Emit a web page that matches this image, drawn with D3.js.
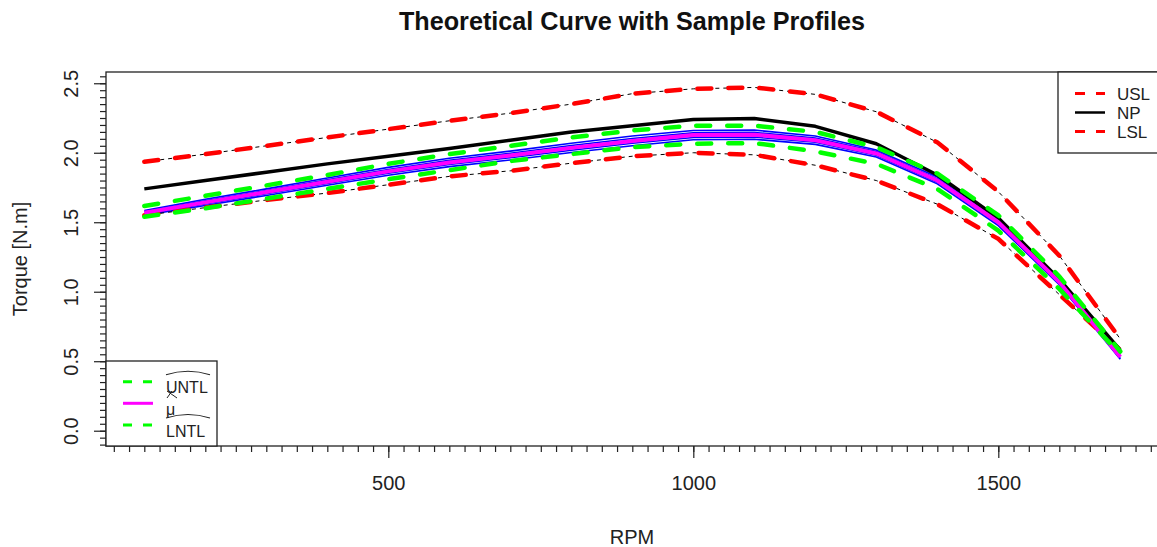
<!DOCTYPE html>
<html><head><meta charset="utf-8">
<script src="https://cdn.jsdelivr.net/npm/d3@7"></script>
<style>body{margin:0;background:#fff;} svg{display:block;font-family:"Liberation Sans",Arial,sans-serif;}</style>
</head><body>
<svg id="c" width="1157" height="547"></svg>
<script>
const rpm = [100,200,300,400,500,600,700,800,900,1000,1100,1200,1300,1400,1500,1600,1700];
const usl  = [1.935,1.99,2.05,2.11,2.17,2.23,2.285,2.35,2.425,2.46,2.47,2.42,2.295,2.075,1.72,1.26,0.66];
const lsl  = [1.55,1.605,1.66,1.71,1.77,1.83,1.87,1.925,1.975,2.0,1.985,1.91,1.80,1.63,1.38,0.98,0.58];
const np   = [1.74,1.80,1.86,1.92,1.975,2.03,2.09,2.15,2.195,2.24,2.247,2.19,2.065,1.84,1.53,1.09,0.58];
const mu   = [1.568,1.643,1.717,1.792,1.866,1.93,1.98,2.035,2.085,2.127,2.13,2.09,1.995,1.80,1.50,1.07,0.53];
const untl = [1.617,1.69,1.765,1.84,1.92,1.99,2.05,2.11,2.16,2.195,2.195,2.15,2.04,1.85,1.55,1.11,0.57];
const lntl = [1.54,1.60,1.67,1.74,1.81,1.875,1.94,1.99,2.04,2.065,2.07,2.01,1.92,1.74,1.44,1.02,0.55];
const sample1 = [1.585,1.665,1.74,1.818,1.895,1.96,2.012,2.068,2.12,2.16,2.163,2.12,2.02,1.825,1.525,1.09,0.55];
const sample2 = [1.577,1.654,1.728,1.805,1.88,1.945,1.996,2.052,2.102,2.143,2.146,2.105,2.008,1.812,1.512,1.08,0.54];
const sample3 = [1.56,1.632,1.705,1.779,1.852,1.915,1.964,2.018,2.068,2.11,2.113,2.075,1.982,1.788,1.488,1.06,0.52];
const sample4 = [1.551,1.621,1.693,1.766,1.838,1.90,1.948,2.002,2.05,2.094,2.097,2.06,1.97,1.776,1.476,1.05,0.515];
const xMajor = [500,1000,1500];
const yMajor = [0.0,0.5,1.0,1.5,2.0,2.5];
const title = "Theoretical Curve with Sample Profiles";

const svg = d3.select("#c");
const L=106, R=1158, T=72, B=446;
const x = d3.scaleLinear().domain([37.2,1761.8]).range([L,R]);
const y = d3.scaleLinear().domain([-0.11,2.581]).range([B,T]);

// axes
const xMinor = d3.range(50,1751,25);
const yMinor = d3.range(-0.1,2.56,0.05).map(v=>Math.round(v*100)/100);
const gx = svg.append("g").attr("transform",`translate(0,${B})`);
gx.call(d3.axisBottom(x).tickValues(xMinor).tickSize(6).tickFormat(""));
gx.select(".domain").remove();
const gx2 = svg.append("g").attr("transform",`translate(0,${B})`);
gx2.call(d3.axisBottom(x).tickValues(xMajor).tickSize(12).tickPadding(18).tickFormat(d3.format("d")));
gx2.select(".domain").remove();
gx2.selectAll("text").attr("font-size",20).attr("fill","#222").attr("font-family","Liberation Sans, Arial");

const gy = svg.append("g").attr("transform",`translate(${L},0)`);
gy.call(d3.axisLeft(y).tickValues(yMinor).tickSize(6).tickFormat(""));
gy.select(".domain").remove();
const gy2 = svg.append("g").attr("transform",`translate(${L},0)`);
gy2.call(d3.axisLeft(y).tickValues(yMajor).tickSize(12).tickFormat(d3.format(".1f")));
gy2.select(".domain").remove();
gy2.selectAll("text").attr("font-size",20).attr("fill","#222").attr("font-family","Liberation Sans, Arial")
  .attr("transform","rotate(-90)").attr("x",0).attr("y",-28).attr("dy",0)
  .attr("text-anchor","middle");
svg.selectAll(".tick line").attr("stroke","#222").attr("stroke-width",1.2);

// clip
svg.append("clipPath").attr("id","clip").append("rect").attr("x",L).attr("y",T).attr("width",R-L).attr("height",B-T);
const plot = svg.append("g").attr("clip-path","url(#clip)");
const line = d3.line().x((d,i)=>x(rpm[i])).y(d=>y(d));

// samples
[sample1,sample2,sample3,sample4].forEach(s=>{
  plot.append("path").attr("d",line(s)).attr("fill","none").attr("stroke","#0000ff").attr("stroke-width",1.6);
});
// spec limits
[usl,lsl].forEach(s=>{
  plot.append("path").attr("d",line(s)).attr("fill","none").attr("stroke","#000").attr("stroke-width",1).attr("stroke-dasharray","4,4");
  plot.append("path").attr("d",line(s)).attr("fill","none").attr("stroke","#ff0000").attr("stroke-width",4.5)
    .attr("stroke-dasharray","14,17").attr("stroke-linecap","round");
});
plot.append("path").attr("d",line(np)).attr("fill","none").attr("stroke","#000").attr("stroke-width",3.5).attr("stroke-linejoin","round");
plot.append("path").attr("d",line(mu)).attr("fill","none").attr("stroke","#ff00ff").attr("stroke-width",4).attr("stroke-linejoin","round");
[untl,lntl].forEach(s=>{
  plot.append("path").attr("d",line(s)).attr("fill","none").attr("stroke","#00ff00").attr("stroke-width",4.5)
    .attr("stroke-dasharray","14,17").attr("stroke-linecap","round");
});

// frame
svg.append("rect").attr("x",L).attr("y",T).attr("width",R-L).attr("height",B-T).attr("fill","none").attr("stroke","#222").attr("stroke-width",1.3);

// titles
svg.append("text").attr("x",(L+R)/2).attr("y",30).attr("text-anchor","middle").attr("font-size",25.2).attr("font-weight","bold").attr("fill","#111").text(title);
svg.append("text").attr("x",(L+R)/2).attr("y",544).attr("text-anchor","middle").attr("font-size",20).attr("fill","#222").text("RPM");
svg.append("text").attr("transform",`translate(27,${(T+B)/2}) rotate(-90)`).attr("text-anchor","middle").attr("font-size",20).attr("fill","#222").text("Torque [N.m]");

// legend top-right
const lg = svg.append("g");
lg.append("rect").attr("x",1058).attr("y",T).attr("width",110).attr("height",81).attr("fill","#fff").attr("stroke","#222").attr("stroke-width",1.3);
const legR = [{t:"USL",c:"#ff0000",d:"10,11",w:3},{t:"NP",c:"#000",d:null,w:2.5},{t:"LSL",c:"#ff0000",d:"10,11",w:3}];
legR.forEach((e,i)=>{
  const yy = 93.5 + i*19;
  const p = lg.append("line").attr("x1",1075).attr("x2",1105).attr("y1",yy).attr("y2",yy).attr("stroke",e.c).attr("stroke-width",e.w);
  if(e.d) p.attr("stroke-dasharray",e.d);
  lg.append("text").attr("x",1117).attr("y",yy+6).attr("font-size",17).attr("fill","#222").text(e.t);
});

// legend bottom-left
const lb = svg.append("g");
lb.append("rect").attr("x",L).attr("y",361).attr("width",111).attr("height",B-361).attr("fill","#fff").attr("stroke","#222").attr("stroke-width",1.3);
const legL = [{t:"UNTL",c:"#00ff00",d:"9,11",y:381.7,hat:true},{t:"\u03bc",c:"#ff00ff",d:null,y:403.3,hat:false},{t:"LNTL",c:"#00ff00",d:"9,11",y:425,hat:true}];
legL.forEach(e=>{
  const p = lb.append("line").attr("x1",123).attr("x2",153).attr("y1",e.y).attr("y2",e.y).attr("stroke",e.c).attr("stroke-width",3);
  if(e.d) p.attr("stroke-dasharray",e.d);
  lb.append("text").attr("x",166).attr("y",e.y+11.5).attr("font-size",16).attr("fill","#222").text(e.t);
  if(e.hat){
    lb.append("path").attr("d",`M166,${e.y-7} Q188,${e.y-14} 210,${e.y-7}`).attr("fill","none").attr("stroke","#222").attr("stroke-width",1.1);
  }
});
lb.append("path").attr("d","M167,398 L172,391 M167,391 L177,398").attr("fill","none").attr("stroke","#222").attr("stroke-width",1);
</script>
</body></html>
